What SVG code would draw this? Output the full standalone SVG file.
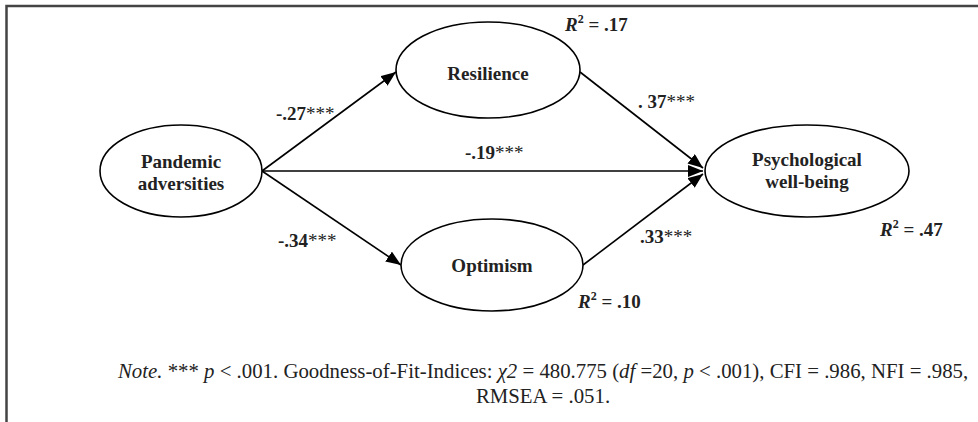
<svg xmlns="http://www.w3.org/2000/svg" width="978" height="422" viewBox="0 0 978 422">
<defs>
<marker id="ah" markerUnits="userSpaceOnUse" markerWidth="16" markerHeight="12" refX="15" refY="6" orient="auto"><path d="M0,0 L15,6 L0,12 z" fill="#000"/></marker>
</defs>
<style>
.node ellipse{fill:#fff;stroke:#000;stroke-width:1.6}
.nl{font-family:"Liberation Serif","Times New Roman",serif;font-weight:bold;font-size:19px;text-anchor:middle;fill:#222}
.el{font-family:"Liberation Serif","Times New Roman",serif;font-weight:bold;font-size:19px;fill:#222}
.ast{font-weight:normal}
.conn line{stroke:#000;stroke-width:1.6;fill:none}
.note{font-family:"Liberation Serif","Times New Roman",serif;font-size:20.8px;fill:#222}
.it{font-style:italic}
</style>
<rect width="978" height="422" fill="#fff"/>
<path d="M6.5,422 V6 H978" fill="none" stroke="#444" stroke-width="2.5"/>
<g id="connectors" class="conn">
<line x1="262" y1="171" x2="396" y2="72" marker-end="url(#ah)"/>
<line x1="262" y1="171" x2="401" y2="265" marker-end="url(#ah)"/>
<line x1="262" y1="171" x2="703" y2="171" marker-end="url(#ah)"/>
<line x1="580" y1="72" x2="703" y2="168" marker-end="url(#ah)"/>
<line x1="583" y1="265" x2="703" y2="174" marker-end="url(#ah)"/>
</g>
<g id="pandemic" class="node">
<ellipse cx="181" cy="171" rx="81" ry="46"/>
<text class="nl" x="181" y="168">Pandemic</text>
<text class="nl" x="181" y="190">adversities</text>
</g>
<g id="resilience" class="node">
<ellipse cx="488" cy="70" rx="92" ry="48"/>
<text class="nl" x="488" y="80">Resilience</text>
</g>
<g id="optimism" class="node">
<ellipse cx="492" cy="265" rx="91" ry="46"/>
<text class="nl" x="492" y="272">Optimism</text>
</g>
<g id="wellbeing" class="node">
<ellipse cx="807" cy="171" rx="102" ry="46"/>
<text class="nl" x="807" y="166">Psychological</text>
<text class="nl" x="807" y="188">well-being</text>
</g>
<g id="labels">
<text class="el" x="276" y="120">-.27<tspan class="ast">***</tspan></text>
<text class="el" x="465" y="159">-.19<tspan class="ast">***</tspan></text>
<text class="el" x="278" y="247">-.34<tspan class="ast">***</tspan></text>
<text class="el" x="638" y="108">. 37<tspan class="ast">***</tspan></text>
<text class="el" x="640" y="243">.33<tspan class="ast">***</tspan></text>
<text class="el" x="565" y="31"><tspan class="it">R</tspan><tspan font-size="12" dy="-8">2</tspan><tspan dy="8"> = .17</tspan></text>
<text class="el" x="578" y="308"><tspan class="it">R</tspan><tspan font-size="12" dy="-8">2</tspan><tspan dy="8"> = .10</tspan></text>
<text class="el" x="880" y="236"><tspan class="it">R</tspan><tspan font-size="12" dy="-8">2</tspan><tspan dy="8"> = .47</tspan></text>
</g>
<g id="note">
<text class="note" x="118" y="378"><tspan class="it">Note.</tspan> *** <tspan class="it">p</tspan> &lt; .001. Goodness-of-Fit-Indices: <tspan class="it">χ2</tspan> = 480.775 (<tspan class="it">df</tspan> =20, <tspan class="it">p</tspan> &lt; .001), CFI = .986, NFI = .985,</text>
<text class="note" x="543" y="403" text-anchor="middle">RMSEA = .051.</text>
</g>
</svg>
